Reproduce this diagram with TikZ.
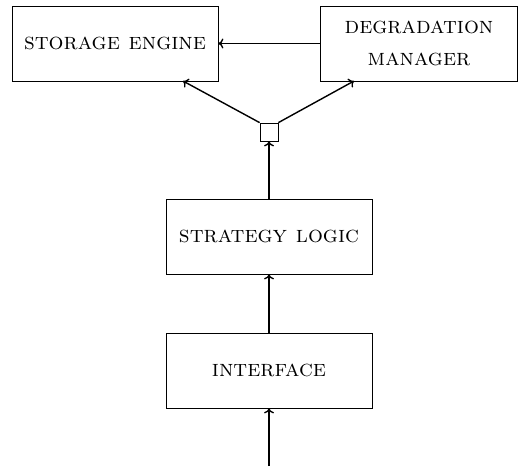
\documentclass[tikz,border=0pt]{standalone}
\usetikzlibrary{arrows.meta}
\begin{document}
\begin{tikzpicture}[x=1pt,y=-1pt,
  block/.style={draw,line width=0.8pt,minimum width=206pt,minimum height=75pt,
    inner sep=0pt,align=center,font=\fontsize{23.5}{32}\selectfont\scshape},
  hub/.style={draw,line width=0.8pt,minimum size=18pt,inner sep=0pt},
  link/.style={line width=1.4pt,-{To[length=5pt,width=10pt]}}]
\useasboundingbox (0,0) rectangle (518,466);
\node[block] (store) at (115,43.5) {storage engine};
\node[block,minimum width=197pt] (degr) at (419,43.5) {degradation\\manager};
\node[hub] (hub) at (269,132) {};
\node[block] (strat) at (269,236.5) {strategy logic};
\node[block] (iface) at (269,370.5) {interface};
\coordinate (input) at (269,466);
\coordinate (storein) at (183,81);
\coordinate (degrin) at (354,81);
\draw[link] (degr.west) -- (store.east);
\draw[link] (hub.north west) -- (storein);
\draw[link] (hub.north east) -- (degrin);
\draw[link] (strat.north) -- (hub.south);
\draw[link] (iface.north) -- (strat.south);
\draw[link] (input) -- (iface.south);
\end{tikzpicture}
\end{document}
